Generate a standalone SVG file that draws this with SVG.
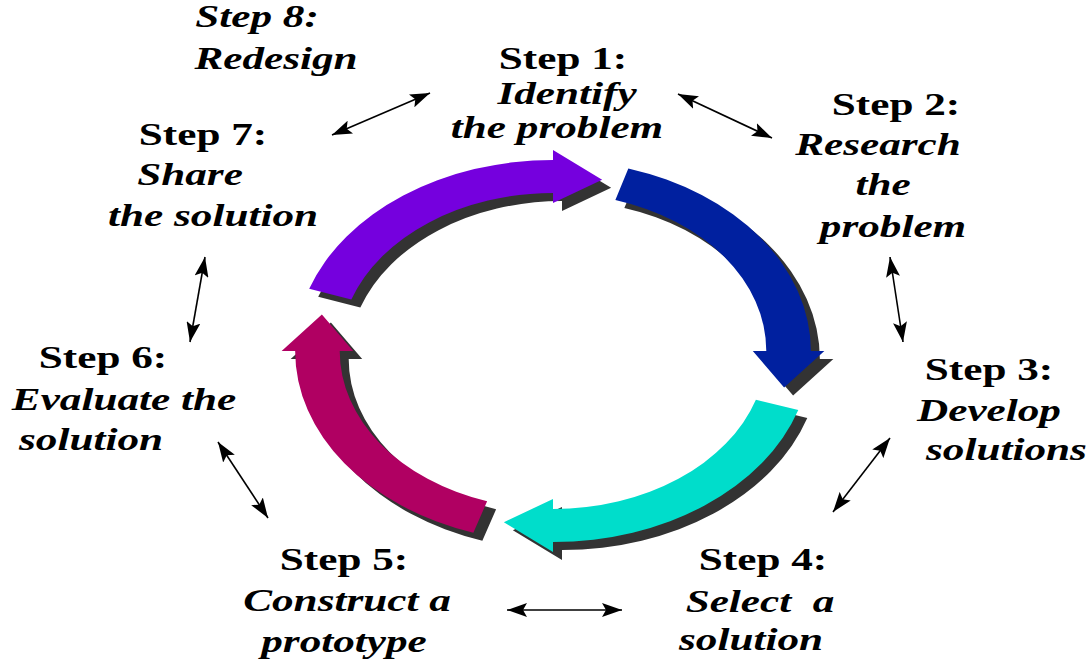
<svg xmlns="http://www.w3.org/2000/svg" width="1090" height="666" viewBox="0 0 1090 666">
<style>
.t{font-family:"Liberation Serif","Times New Roman",serif;font-weight:bold;font-size:32px;fill:#000;text-anchor:middle}
.i{font-style:italic}
.s{text-anchor:start}
.sh{fill:#333333}
.c{stroke:#000;stroke-width:1.6;fill:none;marker-start:url(#ah);marker-end:url(#ah)}
</style>
<defs>
<marker id="ah" viewBox="0 0 20 14" refX="20" refY="7" markerWidth="20" markerHeight="14" markerUnits="userSpaceOnUse" orient="auto-start-reverse">
<path d="M0,0 L20,7 L0,14 L4,7 z" fill="#000"/>
</marker>
<path id="aP" d="M -180.6 -62.2 A 191 191 0 0 1 0 -191 L 0 -201 L 36.4 -171.2 L 0 -148 L 0 -158 A 158 158 0 0 0 -149.4 -51.4 Z"/>
<path id="aB" d="M 55.8 -182.6 A 191 191 0 0 1 191 0 L 201 0 L 171.2 36.4 L 148 0 L 158 0 A 158 158 0 0 0 46.2 -151.1 Z"/>
<path id="aC" d="M 181.7 59 A 191 191 0 0 1 0 191 L 0 201 L -36.4 171.2 L 0 148 L 0 158 A 158 158 0 0 0 150.3 48.8 Z"/>
<path id="aM" d="M -59 181.7 A 191 191 0 0 1 -191 0 L -201 0 L -171.2 -36.4 L -148 0 L -158 0 A 158 158 0 0 0 -48.8 150.3 Z"/>
</defs>
<rect width="1090" height="666" fill="#fff"/>
<g id="cycle">
<g id="shadows" class="sh" transform="translate(562,359) scale(1.35,1)">
<use href="#aP"/><use href="#aB"/><use href="#aC"/><use href="#aM"/>
</g>
<g transform="translate(553,351) scale(1.35,1)">
<use href="#aP" fill="#7500DE"/>
<use href="#aB" fill="#00209F"/>
<use href="#aC" fill="#00DDCB"/>
<use href="#aM" fill="#B00062"/>
</g>
</g>
<g id="connectors">
<line class="c" x1="332" y1="135" x2="430" y2="93"/>
<line class="c" x1="678" y1="94" x2="772" y2="138"/>
<line class="c" x1="890" y1="257" x2="903" y2="342"/>
<line class="c" x1="890" y1="438" x2="833" y2="512"/>
<line class="c" x1="507" y1="610" x2="622" y2="610"/>
<line class="c" x1="218" y1="442" x2="268" y2="518"/>
<line class="c" x1="205" y1="257" x2="190" y2="342"/>
</g>
<g id="step1">
<text class="t" transform="translate(563,69) scale(1.35,1)">Step 1:</text>
<text class="t i" transform="translate(567,104) scale(1.35,1)">Identify</text>
<text class="t i" transform="translate(557,138) scale(1.35,1)">the problem</text>
</g>
<g id="step2">
<text class="t" transform="translate(896,115) scale(1.35,1)">Step 2:</text>
<text class="t i" transform="translate(878,155) scale(1.35,1)">Research</text>
<text class="t i" transform="translate(883,195) scale(1.35,1)">the</text>
<text class="t i" transform="translate(893,237) scale(1.35,1)">problem</text>
</g>
<g id="step3">
<text class="t" transform="translate(989,380) scale(1.35,1)">Step 3:</text>
<text class="t i" transform="translate(989,421) scale(1.35,1)">Develop</text>
<text class="t i s" transform="translate(926,460) scale(1.35,1)">solutions</text>
</g>
<g id="step4">
<text class="t" transform="translate(763,570) scale(1.35,1)">Step 4:</text>
<text class="t i" xml:space="preserve" transform="translate(760,612) scale(1.35,1)">Select  a</text>
<text class="t i" transform="translate(751,650) scale(1.35,1)">solution</text>
</g>
<g id="step5">
<text class="t" transform="translate(344,570) scale(1.35,1)">Step 5:</text>
<text class="t i" transform="translate(347,611) scale(1.35,1)">Construct a</text>
<text class="t i" transform="translate(344,652) scale(1.35,1)">prototype</text>
</g>
<g id="step6">
<text class="t" transform="translate(103,368) scale(1.35,1)">Step 6:</text>
<text class="t i" transform="translate(124,410) scale(1.35,1)">Evaluate the</text>
<text class="t i" transform="translate(91,450) scale(1.35,1)">solution</text>
</g>
<g id="step7">
<text class="t" transform="translate(203,145) scale(1.35,1)">Step 7:</text>
<text class="t i" transform="translate(190,185) scale(1.35,1)">Share</text>
<text class="t i" transform="translate(213,226) scale(1.35,1)">the solution</text>
</g>
<g id="step8">
<text class="t i" transform="translate(257,27) scale(1.35,1)">Step 8:</text>
<text class="t i" transform="translate(276,69) scale(1.35,1)">Redesign</text>
</g>
</svg>
